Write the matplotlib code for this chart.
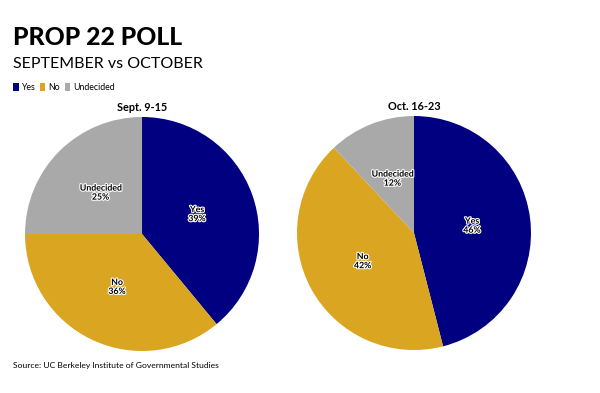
import matplotlib
matplotlib.use('Agg')
import matplotlib.pyplot as plt
import matplotlib.patheffects as pe
from matplotlib.patches import Patch

plt.rcParams['font.family'] = ['Lato', 'DejaVu Sans']

# Data
categories = ['Yes', 'No', 'Undecided']
colors = ['#000080', '#DAA520', '#A9A9A9']
sept_values = [39, 36, 25]
oct_values = [46, 42, 12]
poll_titles = ['Sept. 9-15', 'Oct. 16-23']

fig = plt.figure(figsize=(6, 3.93), dpi=100)

def draw_pie(rect, values, title):
    ax = fig.add_axes(rect)
    wedges, texts, autotexts = ax.pie(values, colors=colors, startangle=90, counterclock=False,
                                      radius=1, autopct='%d%%', pctdistance=0.5,
                                      wedgeprops=dict(linewidth=0))
    for name, v, t in zip(categories, values, autotexts):
        t.set_text(f"{name}\n{v}%")
        t.set_fontsize(6.3)
        t.set_fontweight('bold')
        t.set_color('black')
        t.set_linespacing(1.0)
        t.set_path_effects([pe.withStroke(linewidth=1.6, foreground='white')])
    ax.set_xlim(-1, 1)
    ax.set_ylim(-1, 1)
    ax.set_aspect('equal')
    ax.text(0, 1.035, title, ha='center', va='bottom', fontsize=7.8, fontweight='bold')
    return ax

draw_pie([0.0417, 0.1069, 0.39, 0.5954], sept_values, poll_titles[0])
draw_pie([0.495, 0.1094, 0.39, 0.5954], oct_values, poll_titles[1])

fig.text(0.022, 0.8855, 'PROP 22 POLL', fontsize=17.8, fontweight='black', ha='left', va='baseline')
fig.text(0.022, 0.827, 'SEPTEMBER vs OCTOBER', fontsize=11.5, ha='left', va='baseline')

handles = [Patch(facecolor=c, edgecolor='none') for c in colors]
fig.legend(handles, categories, loc='upper left', bbox_to_anchor=(0.012, 0.805), ncol=3,
           fontsize=6.3, frameon=False, handlelength=0.6, handleheight=1.0,
           handletextpad=0.3, columnspacing=0.6, borderpad=0.2)

fig.text(0.022, 0.0636, 'Source: UC Berkeley Institute of Governmental Studies', fontsize=6.1,
         ha='left', va='baseline')

fig.savefig('out.png', dpi=100)
